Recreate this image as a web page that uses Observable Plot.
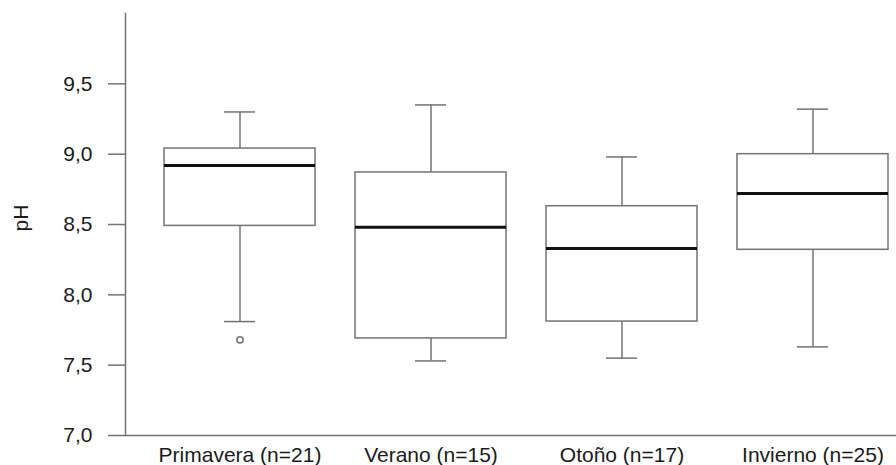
<!DOCTYPE html>
<html>
<head>
<meta charset="utf-8">
<script src="https://cdn.jsdelivr.net/npm/d3@7"></script>
<script src="https://cdn.jsdelivr.net/npm/@observablehq/plot@0.6"></script>
<style>
  html, body { margin: 0; padding: 0; background: #fff; }
</style>
</head>
<body>
<div id="chart"></div>
<script>
const categories = ["Primavera (n=21)", "Verano (n=15)", "Otoño (n=17)", "Invierno (n=25)"];
const minValues    = [7.81, 7.53, 7.55, 7.63];
const q1Values     = [8.49, 7.69, 7.81, 8.32];
const medianValues = [8.92, 8.48, 8.33, 8.72];
const q3Values     = [9.04, 8.87, 8.63, 9.00];
const maxValues    = [9.30, 9.35, 8.98, 9.32];
const outlierCategories = ["Primavera (n=21)"];
const outlierValues = [7.68];
const yTicks = [7.0, 7.5, 8.0, 8.5, 9.0, 9.5];

const stats = categories.map((c, i) => ({
  cat: c, min: minValues[i], q1: q1Values[i], med: medianValues[i], q3: q3Values[i], max: maxValues[i]
}));
const outliers = outlierCategories.map((c, i) => ({cat: c, v: outlierValues[i]}));

const grey = "#737373";

const chart = Plot.plot({
  width: 896,
  height: 465,
  marginLeft: 125,
  marginRight: 0,
  marginTop: 13,
  marginBottom: 30,
  style: {fontFamily: "'Liberation Sans', Arial, sans-serif", fontSize: "21px", color: "#1a1a1a", background: "#fff"},
  x: {domain: categories, range: [125, 927], paddingInner: 0.21, paddingOuter: 0.2},
  y: {domain: [7, 10]},
  marks: [
    Plot.frame({anchor: "left", stroke: grey, strokeWidth: 1.5}),
    Plot.ruleY([7], {stroke: grey, strokeWidth: 1.5}),
    Plot.axisY({ticks: yTicks, tickFormat: d => d.toFixed(1).replace(".", ","), tickSize: 17, tickPadding: 16,
      stroke: grey, strokeWidth: 1.5, fill: "#1a1a1a", label: null, fontSize: 21}),
    Plot.axisX({tickSize: 0, tickPadding: 12, label: null, fill: "#1a1a1a", fontSize: 21}),
    Plot.text(["pH"], {frameAnchor: "left", dx: -104, dy: 7, rotate: -90, fontSize: 21, fill: "#1a1a1a"}),
    Plot.ruleX(stats, {x: "cat", y1: "q3", y2: "max", stroke: grey, strokeWidth: 1.5}),
    Plot.ruleX(stats, {x: "cat", y1: "min", y2: "q1", stroke: grey, strokeWidth: 1.5}),
    Plot.tickY(stats, {x: "cat", y: "max", stroke: grey, strokeWidth: 1.5, insetLeft: 60, insetRight: 60}),
    Plot.tickY(stats, {x: "cat", y: "min", stroke: grey, strokeWidth: 1.5, insetLeft: 60, insetRight: 60}),
    Plot.barY(stats, {x: "cat", y1: "q1", y2: "q3", fill: "#fff", stroke: grey, strokeWidth: 1.5}),
    Plot.tickY(stats, {x: "cat", y: "med", stroke: "#111", strokeWidth: 3}),
    Plot.dot(outliers, {x: "cat", y: "v", r: 3.2, stroke: grey, strokeWidth: 1.5, fill: "none"})
  ]
});
document.getElementById("chart").appendChild(chart);
</script>
</body>
</html>
